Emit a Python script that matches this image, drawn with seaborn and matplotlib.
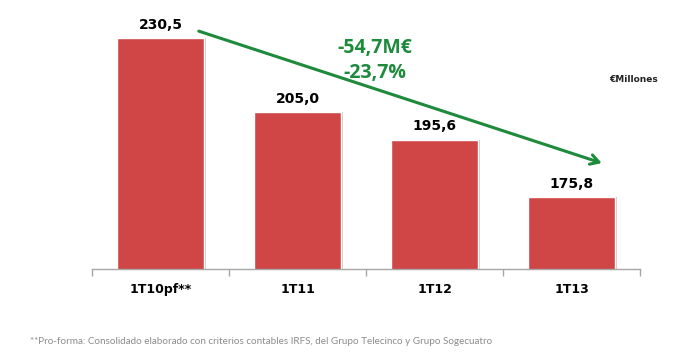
import pandas as pd
import matplotlib.pyplot as plt
import matplotlib.patheffects as pe
import seaborn as sns

periods = ["1T10pf**", "1T11", "1T12", "1T13"]
values = [230.5, 205.0, 195.6, 175.8]
labels = ["230,5", "205,0", "195,6", "175,8"]
change_abs = "-54,7M€"
change_pct = "-23,7%"
footnote = "**Pro-forma: Consolidado elaborado con criterios contables IRFS, del Grupo Telecinco y Grupo Sogecuatro"

df = pd.DataFrame({"periodo": periods, "valor": values})

sns.set_style("white")
fig = plt.figure(figsize=(6.74, 3.61), dpi=100)
ax = fig.add_axes([0.1365, 0.2535, 0.8131, 0.7188])

sns.barplot(data=df, x="periodo", y="valor", color="#D04646", saturation=1,
            width=0.64, ax=ax)
for p in ax.patches:
    p.set_path_effects([pe.SimplePatchShadow(offset=(1.5, 0), shadow_rgbFace="#BBBBBB", alpha=0.8),
                        pe.Normal()])
ax.set_xlim(-0.5, 3.5)
ax.set_ylim(150.9, 240.17)

for i, (v, lab) in enumerate(zip(values, labels)):
    ax.text(i, v + 2.2, lab, ha="center", va="bottom", fontsize=10,
            fontweight="bold", family="DejaVu Sans", color="black")

# flecha de tendencia
ax.annotate("", xy=(3.24, 187.2), xytext=(0.26, 233.2),
            arrowprops=dict(arrowstyle="->,head_length=0.6,head_width=0.35",
                            color="#1D8A3C", lw=2.2), annotation_clip=False)
ax.text(1.565, 227.0, change_abs, ha="center", va="center", fontsize=14,
        fontweight="bold", color="#1D8A3C", family="Open Sans")
ax.text(1.565, 218.5, change_pct, ha="center", va="center", fontsize=14,
        fontweight="bold", color="#1D8A3C", family="Open Sans")
ax.text(3.456, 216.1, "€Millones", ha="center", va="center", fontsize=6.5,
        fontweight="bold", color="#222222", family="DejaVu Sans")

sns.despine(ax=ax, left=True)
ax.spines["bottom"].set_color("#A6A6A6")
ax.spines["bottom"].set_linewidth(1.0)
ax.set_yticks([])
ax.set_xlabel("")
ax.set_ylabel("")
ax.tick_params(axis="x", which="major", length=0, pad=10, colors="black")
ax.set_xticks([-0.5, 0.5, 1.5, 2.5, 3.5], minor=True)
ax.tick_params(axis="x", which="minor", bottom=True, length=5, color="#A6A6A6",
               width=1.0, direction="out")
for t in ax.get_xticklabels():
    t.set_fontweight("bold")
    t.set_fontsize(9)
    t.set_family("DejaVu Sans")
    t.set_color("black")

fig.text(30 / 674, 1 - 341 / 361, footnote, ha="left", va="center",
         fontsize=7.1, color="#8C8C8C", family="Lato")

fig.savefig("out.png", dpi=100, facecolor="white")
